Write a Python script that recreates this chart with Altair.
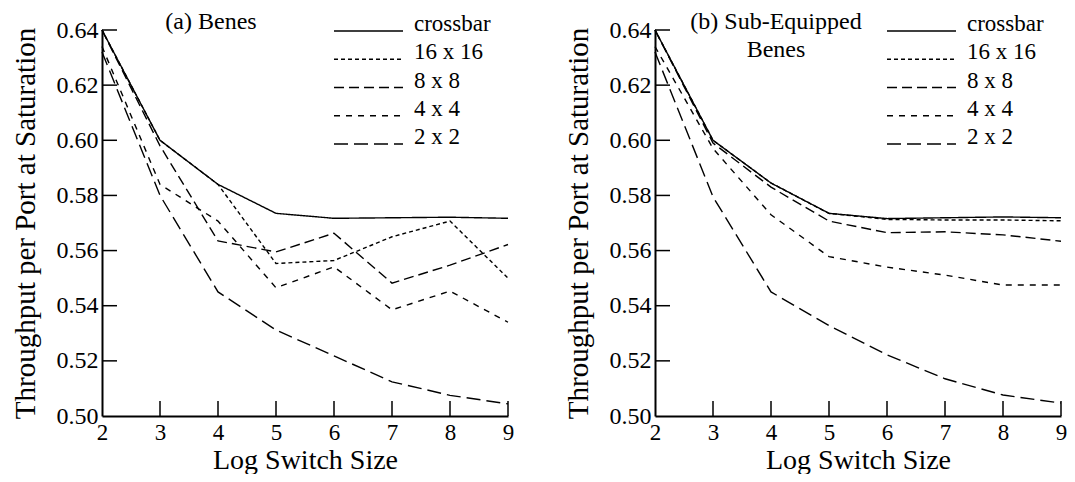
import altair as alt
import pandas as pd

# ---- data ----
log_size = [2, 3, 4, 5, 6, 7, 8, 9]
series_names = ["crossbar", "16 x 16", "8 x 8", "4 x 4", "2 x 2"]

a_crossbar = [0.640, 0.600, 0.584, 0.5735, 0.5717, 0.5719, 0.5721, 0.5717]
a_16 = [0.640, 0.600, 0.584, 0.5553, 0.5564, 0.5650, 0.5707, 0.5500]
a_8 = [0.640, 0.598, 0.5635, 0.5595, 0.5663, 0.5482, 0.5547, 0.5622]
a_4 = [0.634, 0.584, 0.5707, 0.5465, 0.5541, 0.5385, 0.5453, 0.5340]
a_2 = [0.632, 0.580, 0.545, 0.5312, 0.5218, 0.5124, 0.5075, 0.5044]

b_crossbar = [0.640, 0.600, 0.5845, 0.5735, 0.5716, 0.5719, 0.5722, 0.5719]
b_16 = [0.640, 0.600, 0.5845, 0.5735, 0.5713, 0.5711, 0.5711, 0.5708]
b_8 = [0.640, 0.599, 0.583, 0.5707, 0.5665, 0.5668, 0.5657, 0.5634]
b_4 = [0.634, 0.597, 0.573, 0.5578, 0.5540, 0.5511, 0.5475, 0.5475]
b_2 = [0.632, 0.5795, 0.545, 0.5328, 0.5222, 0.5135, 0.5076, 0.5047]

y_ticks = [0.50, 0.52, 0.54, 0.56, 0.58, 0.60, 0.62, 0.64]
x_ticks = [2, 3, 4, 5, 6, 7, 8, 9]

FONT = "Liberation Serif"
W, H = 406, 386
dash_range = [[1, 0], [4, 3], [10, 5], [6, 6], [14, 6]]
X_TITLE = "Log Switch Size"
Y_TITLE = "Throughput per Port at Saturation"


def long_df(cols):
    rows = []
    for name, vals in zip(series_names, cols):
        for x, y in zip(log_size, vals):
            rows.append({"series": name, "x": x, "y": y})
    return pd.DataFrame(rows)


x_axis = alt.Axis(values=x_ticks, format="d", ticks=False, grid=False,
                  domainColor="black", domainWidth=2,
                  labelFont=FONT, labelFontSize=23, labelColor="black",
                  labelPadding=5, labelFlush=False,
                  titleFont=FONT, titleFontSize=28, titleFontWeight="normal",
                  titleColor="black", titleBaseline="alphabetic", titleY=52)
y_axis = alt.Axis(values=y_ticks, format=".2f", ticks=False, grid=False,
                  domainColor="black", domainWidth=2,
                  labelFont=FONT, labelFontSize=24, labelColor="black",
                  labelPadding=4, labelFlush=False,
                  titleFont=FONT, titleFontSize=29, titleFontWeight="normal",
                  titleColor="black", titleAngle=-90, titleBaseline="top",
                  titleX=-91)


def panel(cols, title_lines, title_x):
    df = long_df(cols)
    xs = alt.Scale(domain=[2, 9], nice=False, zero=False)
    ys = alt.Scale(domain=[0.50, 0.64], nice=False, zero=False)
    dash = alt.StrokeDash("series:N", sort=series_names,
                          scale=alt.Scale(domain=series_names, range=dash_range),
                          legend=None)

    lines = alt.Chart(df).mark_line(color="black", strokeWidth=1.4).encode(
        x=alt.X("x:Q", scale=xs, title=X_TITLE, axis=x_axis),
        y=alt.Y("y:Q", scale=ys, title=Y_TITLE, axis=y_axis),
        strokeDash=dash,
        detail="series:N",
    )

    ytick_df = pd.DataFrame({"y": y_ticks[1:]})
    yt = alt.Chart(ytick_df).mark_rule(color="black", strokeWidth=1.5).encode(
        y=alt.Y("y:Q", scale=ys, title=Y_TITLE, axis=y_axis),
        x=alt.value(0), x2=alt.value(15),
    )
    xtick_df = pd.DataFrame({"x": x_ticks[1:]})
    xt = alt.Chart(xtick_df).mark_rule(color="black", strokeWidth=1.5).encode(
        x=alt.X("x:Q", scale=xs, title=X_TITLE, axis=x_axis),
        y=alt.value(H), y2=alt.value(H - 15),
    )

    base = alt.layer(lines, yt, xt)

    leg_df = pd.DataFrame({"series": series_names})
    leg_y = alt.Y("series:N", sort=series_names,
                  scale=alt.Scale(type="point", domain=series_names, range=[1, 114], padding=0),
                  axis=None)
    leg_rules = alt.Chart(leg_df).mark_rule(color="black", strokeWidth=1.4).encode(
        y=leg_y, x=alt.value(232), x2=alt.value(301), strokeDash=dash,
    )
    leg_text = alt.Chart(leg_df).mark_text(
        font=FONT, fontSize=23, align="left", baseline="alphabetic", color="black"
    ).encode(y=leg_y, x=alt.value(312), text="series:N")

    n = len(title_lines)
    title_df = pd.DataFrame({"t": title_lines, "i": [str(k) for k in range(n)]})
    tscale = alt.Scale(type="point", domain=[str(k) for k in range(n)],
                       range=[-1, -1 + 28 * max(n - 1, 0)], padding=0)
    title = alt.Chart(title_df).mark_text(
        font=FONT, fontSize=24, align="center", baseline="alphabetic", color="black"
    ).encode(y=alt.Y("i:N", scale=tscale, axis=None), x=alt.value(title_x), text="t:N")

    return alt.layer(base, leg_rules, leg_text, title).resolve_scale(y="independent").properties(
        width=W, height=H)


left = panel([a_crossbar, a_16, a_8, a_4, a_2], ["(a) Benes"], 109)
right = panel([b_crossbar, b_16, b_8, b_4, b_2], ["(b) Sub-Equipped", "Benes"], 121)

chart = alt.hconcat(left, right, spacing=49).properties(
    padding={"left": 2, "top": 2, "right": 0, "bottom": 0}, background="white"
).configure_view(stroke=None)

chart.save("out.html", embed_options={"renderer": "svg", "actions": False})
